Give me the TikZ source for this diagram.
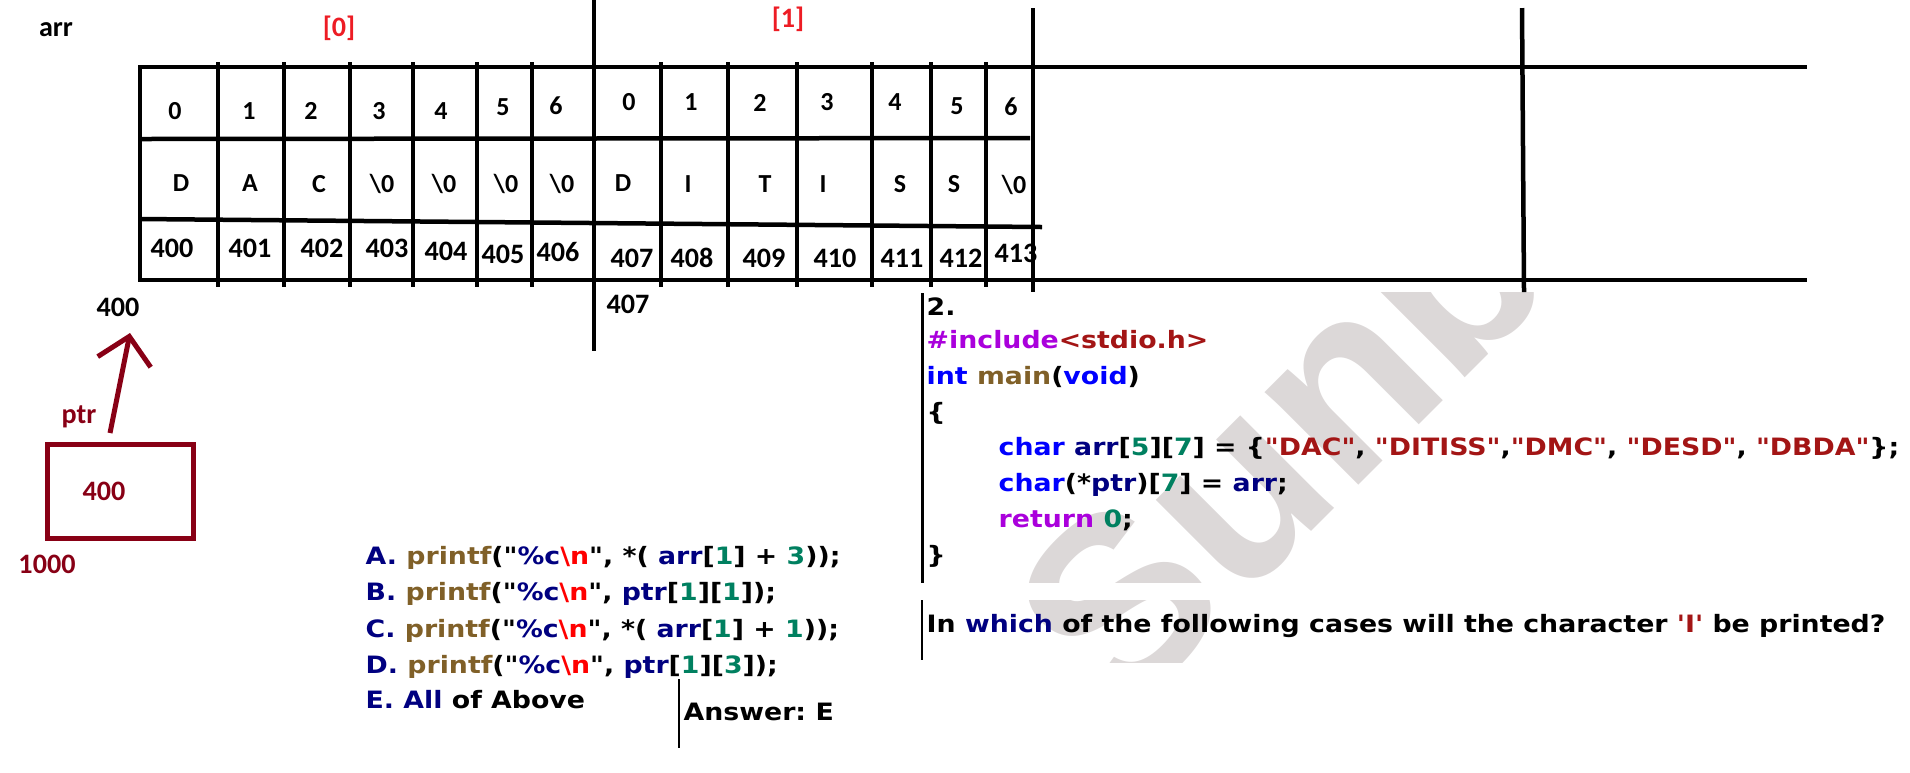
\documentclass[tikz,border=0pt]{standalone}
\usepackage{fontspec}
\usepackage{xcolor}
\usetikzlibrary{arrows.meta,positioning}
\newfontfamily\tblfont{Carlito}[Ligatures=TeXOff]
\newfontfamily\codefont{DejaVu Sans}[Ligatures=TeXOff, FakeStretch=1.12]
\newfontfamily\markfont{Liberation Sans}

\definecolor{paintred}{RGB}{237,28,36}
\definecolor{paintdkred}{RGB}{136,0,21}
\definecolor{cnavy}{RGB}{0,0,128}
\definecolor{cblue}{RGB}{0,0,255}
\definecolor{cbrown}{RGB}{128,96,40}
\definecolor{cgreen}{RGB}{0,128,96}
\definecolor{cpurple}{RGB}{170,0,220}
\definecolor{cstring}{RGB}{163,21,21}
\definecolor{cnl}{RGB}{255,0,0}
\definecolor{wmgray}{RGB}{220,216,216}

\newcommand{\kwnav}[1]{\textcolor{cnavy}{#1}}
\newcommand{\kwblu}[1]{\textcolor{cblue}{#1}}
\newcommand{\kwfun}[1]{\textcolor{cbrown}{#1}}
\newcommand{\kwnum}[1]{\textcolor{cgreen}{#1}}
\newcommand{\kwpre}[1]{\textcolor{cpurple}{#1}}
\newcommand{\kwstr}[1]{\textcolor{cstring}{#1}}
\newcommand{\fmtnl}{\kwnav{\%c}\textcolor{cnl}{\textbackslash n}}

\begin{document}
\frenchspacing
\begin{tikzpicture}[x=0.1mm, y=-0.1mm,
    tblline/.style={line width=0.45mm},
    idx/.style={anchor=base, inner sep=0pt, font=\tblfont\bfseries\fontsize{7.4pt}{9pt}\selectfont},
    addr/.style={idx, font=\tblfont\bfseries\fontsize{8pt}{10pt}\selectfont},
    ptrtxt/.style={addr, text=paintdkred},
    code/.style={anchor=base west, inner sep=0pt, font=\codefont\bfseries\fontsize{6.8pt}{8pt}\selectfont},
    ptrbox/.style={draw=paintdkred, line width=0.5mm, minimum width=14.6mm, minimum height=9.4mm, inner sep=0pt},
    ptrarrow/.style={-{Straight Barb[length=2.6mm, width=5.4mm]}, paintdkred, line width=0.5mm},
    wmark/.style={anchor=base west, inner sep=0pt, text=wmgray, font=\markfont\bfseries\fontsize{71pt}{80pt}\selectfont}
]
    \useasboundingbox (0,0) rectangle (1910,772);

    % watermark behind the code
    \begin{scope}
        \clip (990,292) rectangle (1620,662);
        \node[wmark, rotate=45] (sunbeam) at (1120,723) {Sunbeam};
        \fill[white] (925,583) rectangle (1620,600);
    \end{scope}

    % memory of arr
    \draw[tblline] (138,67) -- (1807,67);
    \draw[tblline] (138,280) -- (1807,280);
    \draw[tblline] (140,67) -- (140,280);
    \draw[tblline] (140,139) -- (1030,138);
    \draw[tblline] (140,219) -- (1042,227);
    \draw[tblline] (218,62) -- (218,287) (284,62) -- (284,287) (350,62) -- (350,287)
        (413,62) -- (413,287) (477,62) -- (477,287) (532,62) -- (532,287)
        (661,62) -- (661,287) (728,62) -- (728,287) (797,62) -- (797,287)
        (872,62) -- (872,287) (931,62) -- (931,287) (986,62) -- (986,287);
    \draw[tblline] (594,0) -- (594,351);
    \draw[tblline] (1033,8) -- (1033,292);
    \draw[tblline] (1522,8) -- (1524,292);

    \node[addr] (arrname) at (56,36) {arr};
    \node[addr, text=paintred] (row0) at (339,36) {[0]};
    \node[addr, text=paintred] (row1) at (788,27) {[1]};
    \node[addr] (base0) at (118,316) {400};
    \node[addr] (base1) at (628,313) {407};

    % row [0]
    \node[idx] (i0) at (175,119) {0};  \node[idx] (c0) at (181,191) {D};               \node[addr] (m400) at (172,257) {400};
    \node[idx] (i1) at (249,119) {1};  \node[idx] (c1) at (250,191) {A};               \node[addr] (m401) at (250,257) {401};
    \node[idx] (i2) at (311,119) {2};  \node[idx] (c2) at (319,192) {C};               \node[addr] (m402) at (322,257) {402};
    \node[idx] (i3) at (379,119) {3};  \node[idx] (c3) at (382,192) {\textbackslash 0}; \node[addr] (m403) at (387,257) {403};
    \node[idx] (i4) at (441,119) {4};  \node[idx] (c4) at (444,192) {\textbackslash 0}; \node[addr] (m404) at (446,260) {404};
    \node[idx] (i5) at (503,115) {5};  \node[idx] (c5) at (506,192) {\textbackslash 0}; \node[addr] (m405) at (503,263) {405};
    \node[idx] (i6) at (556,114) {6};  \node[idx] (c6) at (562,192) {\textbackslash 0}; \node[addr] (m406) at (558,261) {406};

    % row [1]
    \node[idx] (j0) at (629,110) {0};  \node[idx] (d0) at (623,191) {D};               \node[addr] (m407) at (632,267) {407};
    \node[idx] (j1) at (691,110) {1};  \node[idx] (d1) at (688,192) {I};               \node[addr] (m408) at (692,267) {408};
    \node[idx] (j2) at (760,111) {2};  \node[idx] (d2) at (765,192) {T};               \node[addr] (m409) at (764,267) {409};
    \node[idx] (j3) at (827,110) {3};  \node[idx] (d3) at (823,192) {I};               \node[addr] (m410) at (835,267) {410};
    \node[idx] (j4) at (895,110) {4};  \node[idx] (d4) at (900,192) {S};               \node[addr] (m411) at (902,267) {411};
    \node[idx] (j5) at (957,114) {5};  \node[idx] (d5) at (954,192) {S};               \node[addr] (m412) at (961,267) {412};
    \node[idx] (j6) at (1011,115) {6}; \node[idx] (d6) at (1014,193) {\textbackslash 0}; \node[addr] (m413) at (1016,262) {413};

    % pointer ptr
    \node[ptrbox] (ptrcell) at (120,491) {};
    \node[ptrtxt] (ptrval) at (104,500) {400};
    \node[ptrtxt] (ptrname) at (79,423) {ptr};
    \node[ptrtxt] (ptraddr) at (47,573) {1000};
    \coordinate (ptrtip) at (130,333);
    \draw[ptrarrow] ([xshift=-1mm,yshift=0.85mm]ptrcell.north) -- (ptrtip);

    % options
    \node[code] (optA) at (365,564) {\kwnav{A.} \kwfun{printf}("\fmtnl", *( \kwnav{arr}[\kwnum{1}] + \kwnum{3}));};
    \node[code] (optB) at (365,600) {\kwnav{B.} \kwfun{printf}("\fmtnl", \kwnav{ptr}[\kwnum{1}][\kwnum{1}]);};
    \node[code] (optC) at (365,637) {\kwnav{C.} \kwfun{printf}("\fmtnl", *( \kwnav{arr}[\kwnum{1}] + \kwnum{1}));};
    \node[code] (optD) at (365,673) {\kwnav{D.} \kwfun{printf}("\fmtnl", \kwnav{ptr}[\kwnum{1}][\kwnum{3}]);};
    \node[code] (optE) at (365,708) {\kwnav{E.} \kwnav{All} of Above};
    \node[code] (answer) at (683,720) {Answer: E};
    \draw[line width=0.15mm] (679,679) -- (679,748);

    % program
    \node[code] (qnum) at (926,315) {2.};
    \node[code] (incl) at (926,348.5) {\kwpre{\#include}\kwstr{<stdio.h>}};
    \node[code] (mainfn) at (926,384.3) {\kwblu{int} \kwfun{main}(\kwblu{void})};
    \node[code] (lbrace) at (926,420.1) {\{};
    \node[code] (arrdecl) at (998,455.9) {\kwblu{char} \kwnav{arr}[\kwnum{5}][\kwnum{7}] = \{\kwstr{"DAC"}, \kwstr{"DITISS"},\kwstr{"DMC"}, \kwstr{"DESD"}, \kwstr{"DBDA"}\};};
    \node[code] (ptrdecl) at (998,491.7) {\kwblu{char}(*\kwnav{ptr})[\kwnum{7}] = \kwnav{arr};};
    \node[code] (retstmt) at (998,527.5) {\kwpre{return} \kwnum{0};};
    \node[code] (rbrace) at (926,563.3) {\}};
    \draw[line width=0.3mm] (922,293) -- (922,583);

    \node[code] (question) at (926,632) {In \kwnav{which} of the following cases will the character \kwstr{'I'} be printed?};
    \draw[line width=0.25mm] (922,600) -- (922,660);
\end{tikzpicture}
\end{document}
